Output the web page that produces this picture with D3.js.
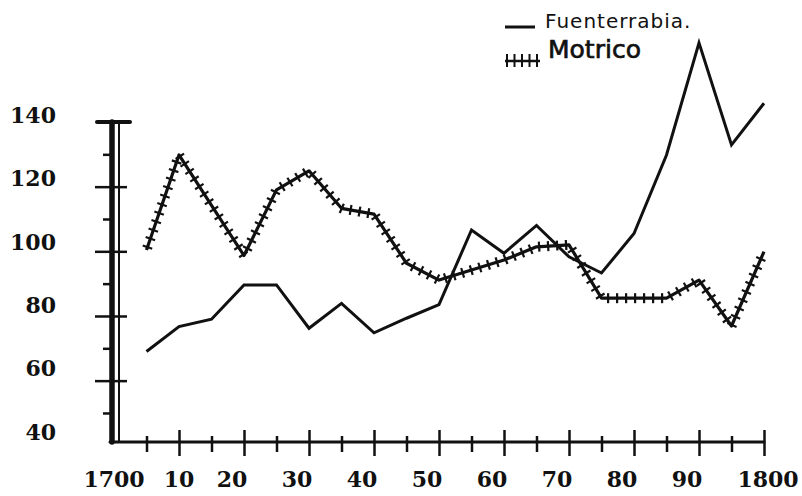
<!DOCTYPE html>
<html>
<head>
<meta charset="utf-8">
<script src="https://cdn.jsdelivr.net/npm/d3@7"></script>
<style>
  html, body { margin: 0; padding: 0; background: #fff; }
  svg { display: block; }
  .lbl { font-family: "DejaVu Serif", serif; font-weight: bold; font-size: 22px; fill: #111; }
</style>
</head>
<body>
<div id="chart"></div>
<script>
// decades 1705..1800
const years = [1705, 1710, 1715, 1720, 1725, 1730, 1735, 1740, 1745, 1750,
               1755, 1760, 1765, 1770, 1775, 1780, 1785, 1790, 1795, 1800];
const fuenterrabia = [69, 76.7, 79, 89.6, 89.6, 76.2, 83.9, 74.8, 79.3, 83.5,
                      106.6, 99.4, 108, 98.3, 93.3, 105.5, 129.8, 164.5, 132.9, 145.8];
const motrico = [100.4, 129.8, 114.2, 98.7, 119, 124.9, 113.3, 111.5, 96.3, 91.1,
                 94.2, 97.3, 101.4, 102, 85.5, 85.5, 85.5, 91.1, 76.9, 99.9];
const yMajor = [60, 80, 100, 120];
const yMinor = [50, 70, 90, 110, 130];
const yLabels = [40, 60, 80, 100, 120, 140];
const xMajor = [1710, 1720, 1730, 1740, 1750, 1760, 1770, 1780, 1790, 1800];
const xMinor = [1705, 1715, 1725, 1735, 1745, 1755, 1765, 1775, 1785, 1795];
const xLabels = [1700, 1710, 1720, 1730, 1740, 1750, 1760, 1770, 1780, 1790, 1800];
const seriesNames = ["Fuenterrabia.", "Motrico"];

const W = 802, H = 496, ink = "#111";
const svg = d3.select("#chart").append("svg").attr("width", W).attr("height", H);

const x = d3.scaleLinear().domain([1700, 1800]).range([114, 764]);
const y = d3.scaleLinear().domain([40, 140]).range([445.3, 122]);
// the typed labels sit a little above their ticks, more so lower down
const yLab = d3.scaleLinear().domain([40, 140]).range([431.7, 115]);
const baseY = 442;

// ---- axes ----
const axisG = svg.append("g").attr("stroke", ink).attr("stroke-linecap", "round");
axisG.append("line").attr("x1", 112).attr("x2", 112).attr("y1", y(140)).attr("y2", baseY).attr("stroke-width", 5.5);
axisG.append("line").attr("x1", 119).attr("x2", 119).attr("y1", y(140)).attr("y2", baseY).attr("stroke-width", 2);
axisG.append("line").attr("x1", 97).attr("x2", 130).attr("y1", y(140)).attr("y2", y(140)).attr("stroke-width", 4);
axisG.append("line").attr("x1", 110).attr("x2", x(1800)).attr("y1", baseY).attr("y2", baseY).attr("stroke-width", 3);

function styleTicks(g, w) {
  g.select(".domain").remove();
  g.selectAll("text").remove();
  g.selectAll("line").attr("stroke", ink).attr("stroke-width", w);
}
svg.append("g").attr("transform", "translate(127,0)")
  .call(d3.axisLeft(y).tickValues(yMajor).tickSize(32))
  .call(styleTicks, 2.5);
svg.append("g").attr("transform", "translate(112,0)")
  .call(d3.axisLeft(y).tickValues(yMinor).tickSize(9))
  .call(styleTicks, 2.5);
svg.append("g").attr("transform", "translate(0,430)")
  .call(d3.axisBottom(x).tickValues(xMajor).tickSize(26))
  .call(styleTicks, 2.5);
svg.append("g").attr("transform", "translate(0,436)")
  .call(d3.axisBottom(x).tickValues(xMinor).tickSize(16))
  .call(styleTicks, 2.5);

svg.append("g").selectAll("text").data(yLabels).join("text")
  .attr("class", "lbl")
  .attr("x", 56).attr("y", d => yLab(d))
  .attr("text-anchor", "end").attr("dominant-baseline", "central")
  .text(d => d);

// hand-lettered: the middle decade labels drift left of their ticks
const nudge = v => (v >= 1720 && v <= 1790 ? -12 : v === 1800 ? 4 : 0);
svg.append("g").selectAll("text").data(xLabels).join("text")
  .attr("class", "lbl")
  .attr("x", d => x(d) + nudge(d)).attr("y", 479)
  .attr("text-anchor", "middle").attr("dominant-baseline", "central")
  .text((d, i) => (i === 0 || d === 1800 ? String(d) : String(d % 100)));

// ---- series ----
const line = d3.line().x(d => x(d[0])).y(d => y(d[1]));
const fData = d3.zip(years, fuenterrabia);
const mData = d3.zip(years, motrico);

svg.append("path").datum(fData).attr("d", line)
  .attr("fill", "none").attr("stroke", ink).attr("stroke-width", 3)
  .attr("stroke-linejoin", "miter");

const mPath = svg.append("path").datum(mData).attr("d", line)
  .attr("fill", "none").attr("stroke", ink).attr("stroke-width", 3.2)
  .attr("stroke-linejoin", "round");

// cross hatching along the Motrico line
const node = mPath.node();
const total = node.getTotalLength();
const hatches = [];
for (let s = 3; s < total; s += 9) {
  const a = node.getPointAtLength(Math.max(0, s - 1));
  const b = node.getPointAtLength(Math.min(total, s + 1));
  const p = node.getPointAtLength(s);
  const dx = b.x - a.x, dy = b.y - a.y, len = Math.hypot(dx, dy) || 1;
  const nx = -dy / len, ny = dx / len, h = 5;
  hatches.push([p.x - nx * h, p.y - ny * h, p.x + nx * h, p.y + ny * h]);
}
svg.append("g").attr("stroke", ink).attr("stroke-width", 2.2)
  .selectAll("line").data(hatches).join("line")
  .attr("x1", d => d[0]).attr("y1", d => d[1]).attr("x2", d => d[2]).attr("y2", d => d[3]);

// ---- legend ----
const lg = svg.append("g");
lg.append("line").attr("x1", 505).attr("x2", 535).attr("y1", 27).attr("y2", 27)
  .attr("stroke", ink).attr("stroke-width", 3);
lg.append("text").attr("x", 545).attr("y", 28)
  .style("font-family", "'DejaVu Sans', sans-serif").style("font-size", "20px")
  .style("letter-spacing", "1px").attr("fill", ink).text(seriesNames[0]);
lg.append("line").attr("x1", 505).attr("x2", 540).attr("y1", 61).attr("y2", 61)
  .attr("stroke", ink).attr("stroke-width", 2.5);
lg.append("g").attr("stroke", ink).attr("stroke-width", 2)
  .selectAll("line").data(d3.range(5)).join("line")
  .attr("x1", i => 507 + i * 7.5).attr("x2", i => 507 + i * 7.5)
  .attr("y1", 54).attr("y2", 67);
lg.append("text").attr("x", 548).attr("y", 58)
  .style("font-family", "'DejaVu Sans', sans-serif").style("font-size", "25px")
  .attr("stroke", ink).attr("stroke-width", 0.7)
  .attr("fill", ink).text(seriesNames[1]);
</script>
</body>
</html>
